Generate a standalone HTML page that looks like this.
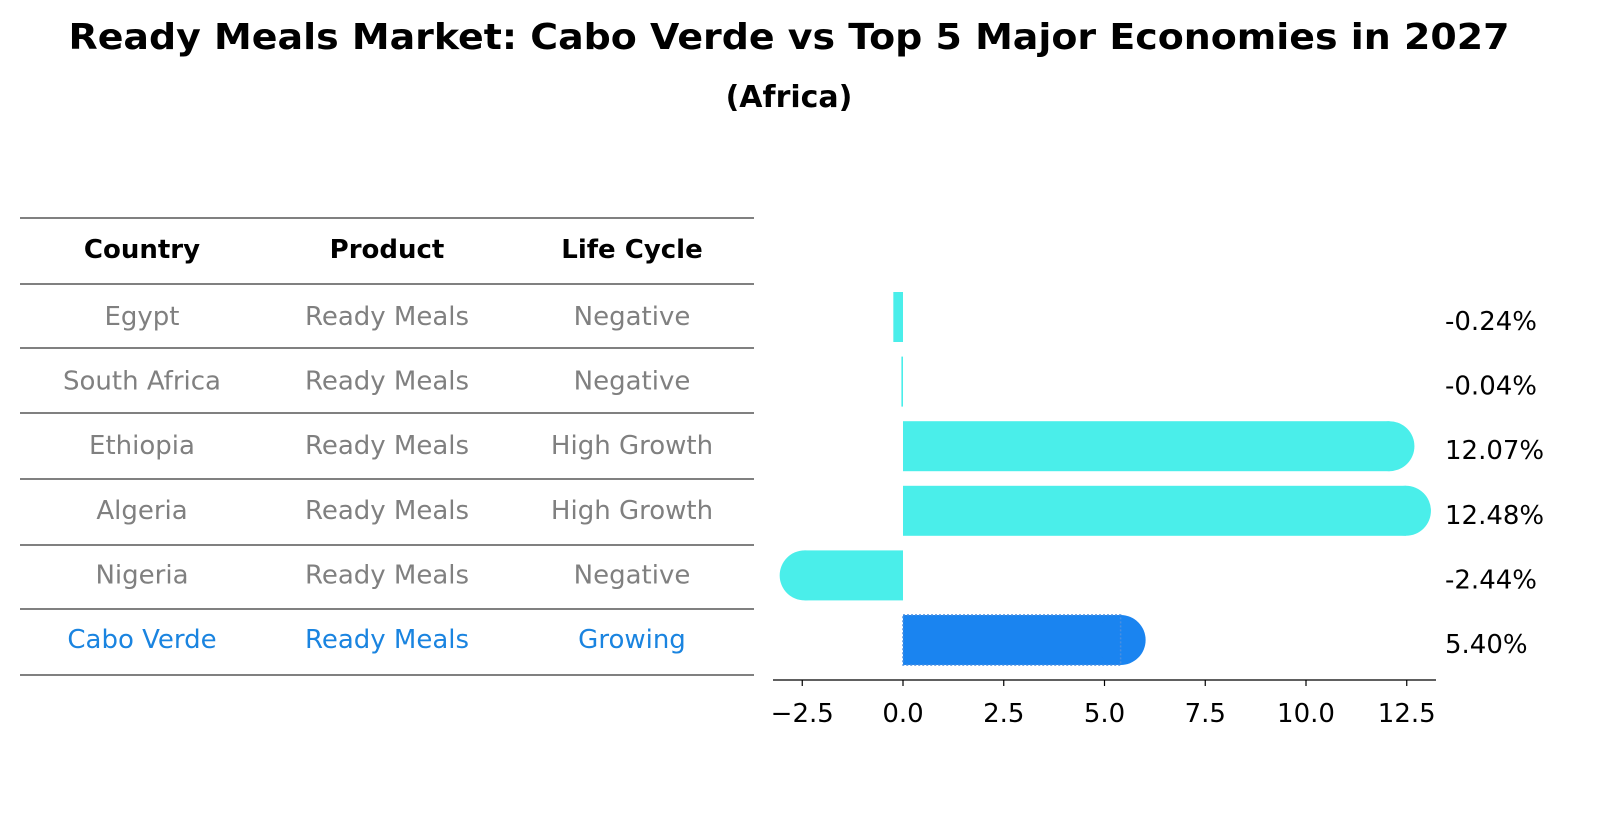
<!DOCTYPE html>
<html><head><meta charset="utf-8"><style>
body{margin:0;width:1604px;height:823px;background:#fff;overflow:hidden;position:relative}
</style></head><body>
<svg id="svg" width="1604" height="823" style="position:absolute;left:0;top:0" font-family="'DejaVu Sans', sans-serif">
<text x="789" y="49" text-anchor="middle" font-size="36" font-weight="bold" textLength="1441" lengthAdjust="spacingAndGlyphs">Ready Meals Market: Cabo Verde vs Top 5 Major Economies in 2027</text>
<text x="789" y="107" text-anchor="middle" font-size="30" font-weight="bold">(Africa)</text>
</svg>
<script>
const countries=["Egypt","South Africa","Ethiopia","Algeria","Nigeria","Cabo Verde"];
const products=["Ready Meals","Ready Meals","Ready Meals","Ready Meals","Ready Meals","Ready Meals"];
const lifeCycles=["Negative","Negative","High Growth","High Growth","Negative","Growing"];
const growth=[-0.24,-0.04,12.07,12.48,-2.44,5.40];
const ticks=[-2.5,0,2.5,5,7.5,10,12.5];
const tickLabels=["−2.5","0.0","2.5","5.0","7.5","10.0","12.5"];
const NS="http://www.w3.org/2000/svg",svg=document.getElementById('svg');
function mk(t,a,txt){const e=document.createElementNS(NS,t);for(const k in a)e.setAttribute(k,a[k]);if(txt!=null)e.textContent=txt;svg.appendChild(e);return e;}
const x=v=>903+v*40.3;
const rowY=i=>316+i*64.6;
const lines=[218,284,348,413,479,545,609,675];
lines.forEach(y=>{const l=mk('line',{x1:20,x2:754,y1:y,y2:y,stroke:'#000','stroke-width':1});

});
const cols=[142,387,632];
["Country","Product","Life Cycle"].forEach((h,j)=>{const e=mk('text',{x:cols[j],y:258,'text-anchor':'middle','font-size':'26','font-weight':'bold'},h);

});
countries.forEach((c,i)=>{const col=i===countries.length-1?'#1a84e0':'#808080';
[c,products[i],lifeCycles[i]].forEach((v,j)=>{const e=mk('text',{x:cols[j],y:rowY(i)+9,'text-anchor':'middle','font-size':'26',fill:col},v);

});});
const h=50,r=25;
growth.forEach((v,i)=>{const cy=rowY(i)+1,last=i===growth.length-1;const col=last?'#1a84f0':'#4aeeea';
const x0=Math.min(x(0),x(v)),w=Math.abs(x(v)-x(0));
const b=mk('rect',{x:x0,y:cy-h/2,width:Math.max(w,1.5),height:h,fill:col});


if(Math.abs(v)>1){const c=mk('circle',{cx:x(v),cy:cy,r:r,fill:col});

}
if(last){const d=mk('rect',{x:x0,y:cy-h/2,width:w,height:h,fill:'none',stroke:'#4a8fe0','stroke-width':1.5,'stroke-dasharray':'2,2'});

}
const t=mk('text',{x:1445,y:cy+13,'font-size':'26'},(v<0?'-':'')+Math.abs(v).toFixed(2)+'%');

});
const ax=mk('line',{x1:773,x2:1436,y1:680,y2:680,stroke:'#000','stroke-width':1.3});


ticks.forEach((v,i)=>{const tk=mk('line',{x1:x(v),x2:x(v),y1:680,y2:686,stroke:'#000','stroke-width':1.2});


const t=mk('text',{x:x(v),y:722,'text-anchor':'middle','font-size':'26'},tickLabels[i]);

});
</script>
</body></html>
